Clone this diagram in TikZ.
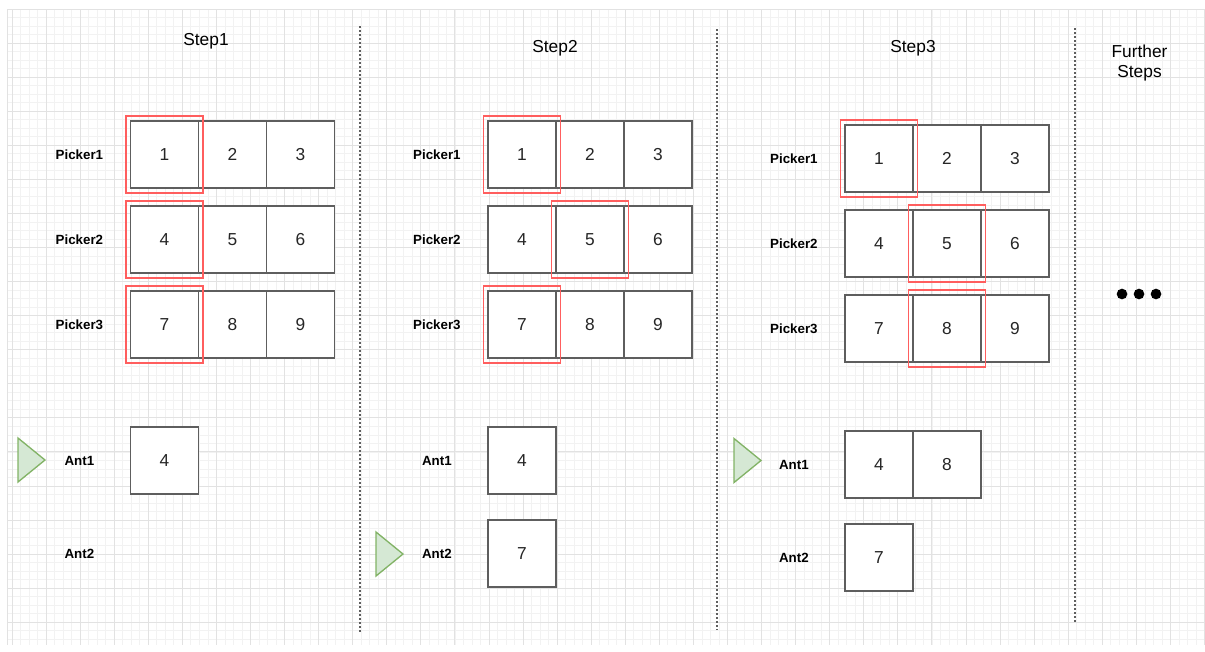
\documentclass[tikz,border=0pt]{standalone}
\usepackage{fontspec}
\setmainfont{Liberation Sans}
\usetikzlibrary{positioning}

\definecolor{gridminor}{HTML}{F2F2F2}
\definecolor{gridmajor}{HTML}{E2E2E2}
\definecolor{boxline}{HTML}{5E5E5E}
\definecolor{hlred}{HTML}{FF5E5E}
\definecolor{antfill}{HTML}{D5E8D4}
\definecolor{antline}{HTML}{82B366}

\begin{document}
\begin{tikzpicture}[x=0.75pt, y=-0.75pt,
  cell/.style={rectangle, draw=boxline, line width=1.1pt, fill=white,
               minimum width=51pt, minimum height=50.25pt, inner sep=0pt,
               outer sep=0pt, font=\fontsize{13}{15}\selectfont, text=black!85},
  hilite/.style={rectangle, draw=hlred, line width=1.4pt,
               minimum width=57.75pt, minimum height=57.75pt, inner sep=0pt},
  rowlabel/.style={font=\bfseries\fontsize{10}{12}\selectfont},
  steptitle/.style={font=\fontsize{13}{15}\selectfont, align=center},
  divider/.style={draw=boxline, line width=0.8pt, dash pattern=on 1.5pt off 1.5pt},
  ant/.style={fill=antfill, draw=antline, line width=1pt},
  dot/.style={circle, fill=black, inner sep=0pt, outer sep=0pt, minimum size=8pt}
]
\useasboundingbox (0,0) rectangle (1205,651);

%% --- background grid ---
\foreach \i in {0,...,140}
  \draw[gridminor, line width=0.6pt] ({12+8.518*\i},9) -- ({12+8.518*\i},645);
\foreach \j in {0,...,74}
  \draw[gridminor, line width=0.6pt] (7,{9+8.518*\j}) -- (1205,{9+8.518*\j});
\foreach \i in {0,...,35}
  \draw[gridmajor, line width=0.7pt] ({12+34.07*\i},9) -- ({12+34.07*\i},645);
\foreach \j in {0,...,18}
  \draw[gridmajor, line width=0.7pt] (7,{9+34.07*\j}) -- (1205,{9+34.07*\j});
\draw[gridmajor, line width=0.7pt] (7,9) -- (7,645);

%% --- separators ---
\draw[divider] (360,26) -- (360,632);
\draw[divider] (717,29) -- (717,630);
\draw[divider] (1075,28) -- (1075,622);

%% --- Step 1 ---
\node[steptitle] (t1) at (206,41) {Step1};
\node[cell] (s1c1) at (164.5,154.5) {1};
\node[cell, right=0pt of s1c1] (s1c2) {2};
\node[cell, right=0pt of s1c2] (s1c3) {3};
\node[cell, below=13.5pt of s1c1] (s1c4) {4};
\node[cell, right=0pt of s1c4] (s1c5) {5};
\node[cell, right=0pt of s1c5] (s1c6) {6};
\node[cell, below=13.5pt of s1c4] (s1c7) {7};
\node[cell, right=0pt of s1c7] (s1c8) {8};
\node[cell, right=0pt of s1c8] (s1c9) {9};
\node[hilite] (s1h1) at (s1c1) {};
\node[hilite] (s1h2) at (s1c4) {};
\node[hilite] (s1h3) at (s1c7) {};
\node[rowlabel, left=17pt of s1c1] (s1p1) {Picker1};
\node[rowlabel, left=17pt of s1c4] (s1p2) {Picker2};
\node[rowlabel, left=17pt of s1c7] (s1p3) {Picker3};
\node[cell, below=51.75pt of s1c7] (s1a1) {4};
\node[rowlabel] (s1n1) at (s1p3 |- s1a1) {Ant1};
\node[rowlabel] (s1n2) at ([yshift=-69.75pt]s1n1) {Ant2};
\coordinate (s1tip) at (45,460);
\draw[ant] (s1tip) -- ++(-27,-22) -- ++(0,44) -- cycle;

%% --- Step 2 ---
\node[steptitle] (t2) at (555,48) {Step2};
\node[cell] (s2c1) at (522,154.5) {1};
\node[cell, right=0pt of s2c1] (s2c2) {2};
\node[cell, right=0pt of s2c2] (s2c3) {3};
\node[cell, below=13.5pt of s2c1] (s2c4) {4};
\node[cell, right=0pt of s2c4] (s2c5) {5};
\node[cell, right=0pt of s2c5] (s2c6) {6};
\node[cell, below=13.5pt of s2c4] (s2c7) {7};
\node[cell, right=0pt of s2c7] (s2c8) {8};
\node[cell, right=0pt of s2c8] (s2c9) {9};
\node[hilite] (s2h1) at (s2c1) {};
\node[hilite] (s2h2) at (s2c5) {};
\node[hilite] (s2h3) at (s2c7) {};
\node[rowlabel, left=17pt of s2c1] (s2p1) {Picker1};
\node[rowlabel, left=17pt of s2c4] (s2p2) {Picker2};
\node[rowlabel, left=17pt of s2c7] (s2p3) {Picker3};
\node[cell, below=51.75pt of s2c7] (s2a1) {4};
\node[cell, below=19.5pt of s2a1] (s2a2) {7};
\node[rowlabel] (s2n1) at (s2p3 |- s2a1) {Ant1};
\node[rowlabel] (s2n2) at (s2p3 |- s2a2) {Ant2};
\coordinate (s2tip) at (403,554);
\draw[ant] (s2tip) -- ++(-27,-22) -- ++(0,44) -- cycle;

%% --- Step 3 ---
\node[steptitle] (t3) at (913,48) {Step3};
\node[cell] (s3c1) at (879,158.5) {1};
\node[cell, right=0pt of s3c1] (s3c2) {2};
\node[cell, right=0pt of s3c2] (s3c3) {3};
\node[cell, below=13.5pt of s3c1] (s3c4) {4};
\node[cell, right=0pt of s3c4] (s3c5) {5};
\node[cell, right=0pt of s3c5] (s3c6) {6};
\node[cell, below=13.5pt of s3c4] (s3c7) {7};
\node[cell, right=0pt of s3c7] (s3c8) {8};
\node[cell, right=0pt of s3c8] (s3c9) {9};
\node[hilite] (s3h1) at (s3c1) {};
\node[hilite] (s3h2) at (s3c5) {};
\node[hilite] (s3h3) at (s3c8) {};
\node[rowlabel, left=17pt of s3c1] (s3p1) {Picker1};
\node[rowlabel, left=17pt of s3c4] (s3p2) {Picker2};
\node[rowlabel, left=17pt of s3c7] (s3p3) {Picker3};
\node[cell, below=51.75pt of s3c7] (s3a1) {4};
\node[cell, right=0pt of s3a1] (s3a1b) {8};
\node[cell, below=19.5pt of s3a1] (s3a2) {7};
\node[rowlabel] (s3n1) at (s3p3 |- s3a1) {Ant1};
\node[rowlabel] (s3n2) at (s3p3 |- s3a2) {Ant2};
\coordinate (s3tip) at (761,460.5);
\draw[ant] (s3tip) -- ++(-27,-22) -- ++(0,44) -- cycle;

%% --- Further steps ---
\node[steptitle] (t4) at (1139.5,63) {Further\\Steps};
\node[dot] (d1) at (1122,294) {};
\node[dot, right=4.75pt of d1] (d2) {};
\node[dot, right=4.75pt of d2] (d3) {};

\end{tikzpicture}
\end{document}
